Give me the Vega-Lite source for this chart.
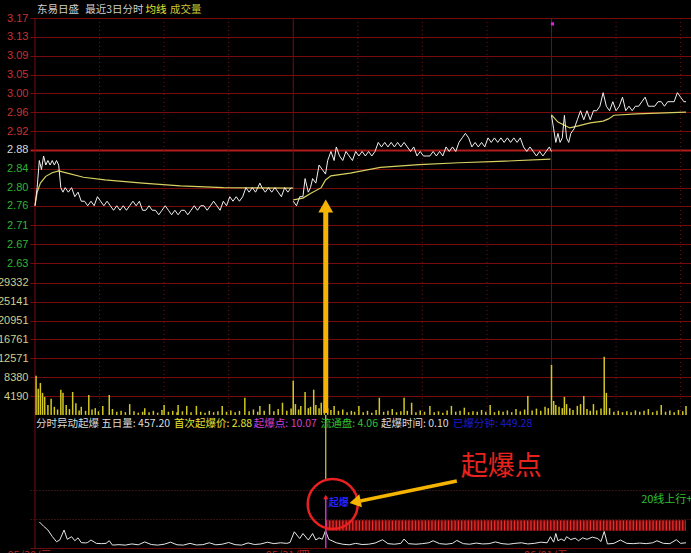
{
  "$schema": "https://vega.github.io/schema/vega-lite/v6.json",
  "width": 661,
  "height": 530,
  "autosize": {"type": "none"},
  "padding": {"left": 30, "top": 18, "right": 0, "bottom": 5},
  "background": "#000000",
  "config": {
    "view": {"stroke": null},
    "font": "Noto Sans CJK SC",
    "axisX": {
      "grid": false, "ticks": false,
      "domainColor": "#6a0c0c",
      "labelColor": "#b42828", "labelFont": "Noto Sans CJK SC", "labelFontSize": 11,
      "labelPadding": 1, "labelFlush": false, "labelOverlap": false, "labelBound": false, "labelOffset": -6
    },
    "axisY": {
      "domain": false, "ticks": false, "title": null,
      "labelFlush": false, "labelOverlap": false, "labelBound": false,
      "labelFont": "Liberation Sans", "labelFontSize": 11, "labelPadding": 2,
      "gridColor": "#780c0c", "gridWidth": 1
    }
  },
  "datasets": {
    "price": [
      {"d":1,"t":0,"p":2.76},{"d":1,"t":2,"p":2.80},{"d":1,"t":4,"p":2.86},{"d":1,"t":6,"p":2.84},{"d":1,"t":8,"p":2.87},
      {"d":1,"t":10,"p":2.85},{"d":1,"t":12,"p":2.86},{"d":1,"t":14,"p":2.85},{"d":1,"t":16,"p":2.86},{"d":1,"t":18,"p":2.85},
      {"d":1,"t":20,"p":2.86},{"d":1,"t":22,"p":2.85},{"d":1,"t":24,"p":2.80},{"d":1,"t":26,"p":2.79},{"d":1,"t":28,"p":2.80},
      {"d":1,"t":31,"p":2.79},{"d":1,"t":34,"p":2.80},{"d":1,"t":37,"p":2.78},{"d":1,"t":40,"p":2.79},{"d":1,"t":43,"p":2.77},
      {"d":1,"t":46,"p":2.77},{"d":1,"t":49,"p":2.76},{"d":1,"t":52,"p":2.77},{"d":1,"t":55,"p":2.76},{"d":1,"t":58,"p":2.78},
      {"d":1,"t":61,"p":2.77},{"d":1,"t":64,"p":2.76},{"d":1,"t":67,"p":2.77},{"d":1,"t":70,"p":2.76},{"d":1,"t":73,"p":2.75},
      {"d":1,"t":76,"p":2.76},{"d":1,"t":79,"p":2.75},{"d":1,"t":82,"p":2.76},{"d":1,"t":85,"p":2.75},{"d":1,"t":88,"p":2.76},
      {"d":1,"t":91,"p":2.77},{"d":1,"t":94,"p":2.76},{"d":1,"t":97,"p":2.77},{"d":1,"t":100,"p":2.75},{"d":1,"t":103,"p":2.75},
      {"d":1,"t":106,"p":2.76},{"d":1,"t":109,"p":2.75},{"d":1,"t":112,"p":2.75},{"d":1,"t":115,"p":2.74},{"d":1,"t":118,"p":2.75},
      {"d":1,"t":121,"p":2.76},{"d":1,"t":124,"p":2.75},{"d":1,"t":127,"p":2.74},{"d":1,"t":130,"p":2.75},{"d":1,"t":133,"p":2.74},
      {"d":1,"t":136,"p":2.75},{"d":1,"t":139,"p":2.75},{"d":1,"t":142,"p":2.74},{"d":1,"t":145,"p":2.75},{"d":1,"t":148,"p":2.76},
      {"d":1,"t":151,"p":2.75},{"d":1,"t":154,"p":2.76},{"d":1,"t":157,"p":2.76},{"d":1,"t":160,"p":2.75},{"d":1,"t":163,"p":2.76},
      {"d":1,"t":166,"p":2.77},{"d":1,"t":169,"p":2.76},{"d":1,"t":172,"p":2.75},{"d":1,"t":175,"p":2.77},{"d":1,"t":178,"p":2.76},
      {"d":1,"t":181,"p":2.78},{"d":1,"t":184,"p":2.77},{"d":1,"t":187,"p":2.78},{"d":1,"t":190,"p":2.77},{"d":1,"t":193,"p":2.78},
      {"d":1,"t":196,"p":2.80},{"d":1,"t":199,"p":2.79},{"d":1,"t":202,"p":2.80},{"d":1,"t":205,"p":2.79},{"d":1,"t":209,"p":2.81},
      {"d":1,"t":211,"p":2.80},{"d":1,"t":214,"p":2.79},{"d":1,"t":217,"p":2.80},{"d":1,"t":220,"p":2.79},{"d":1,"t":223,"p":2.80},
      {"d":1,"t":226,"p":2.79},{"d":1,"t":229,"p":2.78},{"d":1,"t":232,"p":2.80},{"d":1,"t":235,"p":2.79},{"d":1,"t":238,"p":2.80},
      {"d":2,"t":240,"p":2.77},{"d":2,"t":243,"p":2.76},{"d":2,"t":246,"p":2.78},{"d":2,"t":249,"p":2.78},{"d":2,"t":251,"p":2.82},
      {"d":2,"t":254,"p":2.79},{"d":2,"t":256,"p":2.80},{"d":2,"t":258,"p":2.82},{"d":2,"t":261,"p":2.81},{"d":2,"t":264,"p":2.85},
      {"d":2,"t":267,"p":2.84},{"d":2,"t":270,"p":2.83},{"d":2,"t":272,"p":2.86},{"d":2,"t":275,"p":2.88},{"d":2,"t":278,"p":2.86},
      {"d":2,"t":280,"p":2.89},{"d":2,"t":283,"p":2.87},{"d":2,"t":286,"p":2.86},{"d":2,"t":289,"p":2.88},{"d":2,"t":292,"p":2.87},
      {"d":2,"t":295,"p":2.86},{"d":2,"t":298,"p":2.88},{"d":2,"t":301,"p":2.87},{"d":2,"t":304,"p":2.88},{"d":2,"t":307,"p":2.87},
      {"d":2,"t":310,"p":2.88},{"d":2,"t":313,"p":2.87},{"d":2,"t":316,"p":2.88},{"d":2,"t":319,"p":2.90},{"d":2,"t":322,"p":2.89},
      {"d":2,"t":325,"p":2.90},{"d":2,"t":328,"p":2.89},{"d":2,"t":331,"p":2.90},{"d":2,"t":334,"p":2.89},{"d":2,"t":337,"p":2.90},
      {"d":2,"t":340,"p":2.89},{"d":2,"t":343,"p":2.90},{"d":2,"t":346,"p":2.89},{"d":2,"t":349,"p":2.88},{"d":2,"t":352,"p":2.89},
      {"d":2,"t":355,"p":2.87},{"d":2,"t":358,"p":2.88},{"d":2,"t":361,"p":2.87},{"d":2,"t":364,"p":2.87},{"d":2,"t":367,"p":2.87},
      {"d":2,"t":370,"p":2.88},{"d":2,"t":373,"p":2.87},{"d":2,"t":376,"p":2.88},{"d":2,"t":379,"p":2.87},{"d":2,"t":382,"p":2.89},
      {"d":2,"t":385,"p":2.88},{"d":2,"t":388,"p":2.89},{"d":2,"t":391,"p":2.88},{"d":2,"t":394,"p":2.90},{"d":2,"t":397,"p":2.91},
      {"d":2,"t":400,"p":2.92},{"d":2,"t":403,"p":2.91},{"d":2,"t":406,"p":2.89},{"d":2,"t":409,"p":2.90},{"d":2,"t":412,"p":2.89},
      {"d":2,"t":415,"p":2.90},{"d":2,"t":418,"p":2.89},{"d":2,"t":421,"p":2.91},{"d":2,"t":424,"p":2.90},{"d":2,"t":427,"p":2.91},
      {"d":2,"t":430,"p":2.90},{"d":2,"t":433,"p":2.91},{"d":2,"t":436,"p":2.90},{"d":2,"t":439,"p":2.91},{"d":2,"t":442,"p":2.90},
      {"d":2,"t":445,"p":2.91},{"d":2,"t":448,"p":2.90},{"d":2,"t":451,"p":2.91},{"d":2,"t":454,"p":2.89},{"d":2,"t":457,"p":2.88},
      {"d":2,"t":460,"p":2.89},{"d":2,"t":463,"p":2.88},{"d":2,"t":466,"p":2.87},{"d":2,"t":469,"p":2.88},{"d":2,"t":472,"p":2.87},
      {"d":2,"t":475,"p":2.88},{"d":2,"t":478,"p":2.89},{"d":2,"t":480,"p":2.88},
      {"d":3,"t":480,"p":2.96},{"d":3,"t":482,"p":2.93},{"d":3,"t":484,"p":2.90},{"d":3,"t":486,"p":2.92},{"d":3,"t":488,"p":2.90},
      {"d":3,"t":490,"p":2.91},{"d":3,"t":492,"p":2.96},{"d":3,"t":494,"p":2.91},{"d":3,"t":496,"p":2.90},{"d":3,"t":498,"p":2.92},
      {"d":3,"t":501,"p":2.93},{"d":3,"t":504,"p":2.95},{"d":3,"t":507,"p":2.97},{"d":3,"t":510,"p":2.95},{"d":3,"t":513,"p":2.97},
      {"d":3,"t":516,"p":2.95},{"d":3,"t":519,"p":2.97},{"d":3,"t":522,"p":2.97},{"d":3,"t":525,"p":2.98},{"d":3,"t":528,"p":3.01},
      {"d":3,"t":531,"p":2.98},{"d":3,"t":534,"p":2.97},{"d":3,"t":537,"p":2.99},{"d":3,"t":540,"p":2.97},{"d":3,"t":543,"p":2.98},
      {"d":3,"t":546,"p":3.00},{"d":3,"t":549,"p":2.97},{"d":3,"t":552,"p":2.98},{"d":3,"t":555,"p":2.97},{"d":3,"t":558,"p":2.98},
      {"d":3,"t":561,"p":2.98},{"d":3,"t":564,"p":2.99},{"d":3,"t":567,"p":3.00},{"d":3,"t":570,"p":2.98},{"d":3,"t":573,"p":2.98},
      {"d":3,"t":576,"p":2.98},{"d":3,"t":579,"p":2.99},{"d":3,"t":582,"p":2.99},{"d":3,"t":585,"p":2.98},{"d":3,"t":588,"p":2.99},
      {"d":3,"t":591,"p":2.99},{"d":3,"t":594,"p":2.99},{"d":3,"t":597,"p":3.01},{"d":3,"t":600,"p":3.00},{"d":3,"t":603,"p":2.99},
      {"d":3,"t":605,"p":2.99}
    ],
    "avg": [
      {"d":1,"t":0,"p":2.76},{"d":1,"t":2,"p":2.79},{"d":1,"t":5,"p":2.81},{"d":1,"t":10,"p":2.825},{"d":1,"t":16,"p":2.833},
      {"d":1,"t":22,"p":2.837},{"d":1,"t":30,"p":2.832},{"d":1,"t":45,"p":2.823},{"d":1,"t":65,"p":2.817},{"d":1,"t":100,"p":2.81},
      {"d":1,"t":135,"p":2.804},{"d":1,"t":175,"p":2.80},{"d":1,"t":240,"p":2.799},
      {"d":2,"t":240,"p":2.773},{"d":2,"t":249,"p":2.777},{"d":2,"t":256,"p":2.787},{"d":2,"t":266,"p":2.80},{"d":2,"t":270,"p":2.817},
      {"d":2,"t":275,"p":2.826},{"d":2,"t":293,"p":2.832},{"d":2,"t":321,"p":2.845},{"d":2,"t":357,"p":2.851},{"d":2,"t":394,"p":2.855},
      {"d":2,"t":431,"p":2.858},{"d":2,"t":479,"p":2.863},
      {"d":3,"t":480,"p":2.961},{"d":3,"t":486,"p":2.945},{"d":3,"t":492,"p":2.938},{"d":3,"t":497,"p":2.932},{"d":3,"t":504,"p":2.936},
      {"d":3,"t":516,"p":2.943},{"d":3,"t":528,"p":2.947},{"d":3,"t":533,"p":2.952},{"d":3,"t":538,"p":2.96},{"d":3,"t":559,"p":2.963},
      {"d":3,"t":605,"p":2.967}
    ],
    "vol": [
      {"t":1,"v":8700},{"t":3,"v":5800},{"t":5,"v":7100},{"t":7,"v":4900},{"t":9,"v":4000},{"t":12,"v":2200},{"t":15,"v":3600},
      {"t":18,"v":1800},{"t":21,"v":1200},{"t":24,"v":5600},{"t":26,"v":4900},{"t":29,"v":2200},{"t":32,"v":1300},{"t":35,"v":5100},
      {"t":38,"v":2600},{"t":41,"v":1000},{"t":43,"v":1800},{"t":47,"v":900},{"t":50,"v":4400},{"t":53,"v":1200},{"t":56,"v":1500},
      {"t":59,"v":800},{"t":63,"v":2000},{"t":69,"v":4400},{"t":72,"v":1300},{"t":76,"v":700},{"t":80,"v":900},{"t":84,"v":600},
      {"t":88,"v":2400},{"t":92,"v":800},{"t":96,"v":500},{"t":100,"v":700},{"t":102,"v":1500},{"t":106,"v":600},{"t":110,"v":900},
      {"t":114,"v":500},{"t":118,"v":1100},{"t":120,"v":2200},{"t":124,"v":700},{"t":128,"v":900},{"t":132,"v":600},{"t":133,"v":2200},
      {"t":137,"v":800},{"t":141,"v":2000},{"t":145,"v":600},{"t":150,"v":2000},{"t":154,"v":700},{"t":158,"v":500},{"t":162,"v":900},
      {"t":166,"v":600},{"t":170,"v":800},{"t":174,"v":2000},{"t":178,"v":700},{"t":182,"v":1000},{"t":186,"v":600},{"t":190,"v":900},
      {"t":195,"v":3800},{"t":199,"v":800},{"t":203,"v":1200},{"t":207,"v":700},{"t":209,"v":2000},{"t":213,"v":900},{"t":218,"v":2400},
      {"t":222,"v":800},{"t":226,"v":1300},{"t":230,"v":2700},{"t":234,"v":900},{"t":238,"v":1400},
      {"t":240,"v":7600},{"t":242,"v":2400},{"t":245,"v":1200},{"t":247,"v":2000},{"t":251,"v":5100},{"t":254,"v":1500},{"t":256,"v":1800},
      {"t":259,"v":5600},{"t":261,"v":2200},{"t":264,"v":1500},{"t":266,"v":2700},{"t":269,"v":3000},{"t":272,"v":1500},{"t":275,"v":1100},
      {"t":278,"v":2000},{"t":282,"v":900},{"t":286,"v":1200},{"t":290,"v":600},{"t":294,"v":900},{"t":297,"v":700},{"t":301,"v":2000},
      {"t":305,"v":600},{"t":309,"v":900},{"t":313,"v":500},{"t":317,"v":1100},{"t":320,"v":3800},{"t":324,"v":700},{"t":328,"v":900},
      {"t":332,"v":1300},{"t":336,"v":600},{"t":340,"v":800},{"t":343,"v":3800},{"t":346,"v":900},{"t":350,"v":2700},{"t":354,"v":600},
      {"t":358,"v":1000},{"t":362,"v":700},{"t":367,"v":2000},{"t":371,"v":600},{"t":375,"v":800},{"t":379,"v":500},{"t":383,"v":1000},
      {"t":387,"v":2000},{"t":391,"v":700},{"t":395,"v":900},{"t":399,"v":1600},{"t":403,"v":600},{"t":407,"v":800},{"t":411,"v":700},
      {"t":415,"v":1100},{"t":419,"v":700},{"t":423,"v":2200},{"t":427,"v":600},{"t":431,"v":900},{"t":435,"v":700},{"t":439,"v":1000},
      {"t":443,"v":600},{"t":447,"v":1300},{"t":451,"v":800},{"t":455,"v":1200},{"t":458,"v":4200},{"t":462,"v":1000},{"t":466,"v":1400},
      {"t":470,"v":900},{"t":474,"v":1800},{"t":477,"v":1500},
      {"t":480,"v":11100},{"t":482,"v":3100},{"t":484,"v":2200},{"t":487,"v":1800},{"t":490,"v":1500},{"t":492,"v":4000},{"t":494,"v":2400},
      {"t":497,"v":1500},{"t":500,"v":1100},{"t":504,"v":2000},{"t":507,"v":2400},{"t":510,"v":4200},{"t":513,"v":1300},{"t":516,"v":900},
      {"t":519,"v":2400},{"t":522,"v":1000},{"t":526,"v":1400},{"t":529,"v":12900},{"t":531,"v":4900},{"t":534,"v":1500},{"t":538,"v":700},
      {"t":542,"v":900},{"t":546,"v":600},{"t":550,"v":800},{"t":554,"v":600},{"t":558,"v":1000},{"t":562,"v":700},{"t":566,"v":900},
      {"t":570,"v":1300},{"t":574,"v":600},{"t":578,"v":900},{"t":582,"v":2200},{"t":586,"v":700},{"t":590,"v":1000},{"t":594,"v":600},
      {"t":598,"v":1100},{"t":602,"v":800},{"t":605,"v":2000}
    ],
    "ind": [
      {"t":4,"s":18},{"t":8,"s":15},{"t":12,"s":12.4},{"t":16,"s":8},{"t":20,"s":4.3},{"t":23,"s":5.5},{"t":27,"s":12.4},{"t":30,"s":6},
      {"t":34,"s":7.8},{"t":37,"s":5},{"t":40,"s":7},{"t":43,"s":3.7},{"t":47,"s":3.5},{"t":49,"s":3.8},{"t":52,"s":5.5},{"t":57,"s":3.2},
      {"t":62,"s":3},{"t":66,"s":3.2},{"t":69,"s":5},{"t":72,"s":2},{"t":78,"s":2.3},{"t":84,"s":2},{"t":90,"s":2.8},{"t":96,"s":2.2},
      {"t":102,"s":4.2},{"t":108,"s":2.4},{"t":114,"s":2},{"t":120,"s":2.6},{"t":126,"s":4},{"t":132,"s":2.2},{"t":138,"s":2},{"t":144,"s":3.2},
      {"t":150,"s":2.1},{"t":156,"s":2.3},{"t":162,"s":3.6},{"t":168,"s":2.2},{"t":174,"s":2.6},{"t":180,"s":3.8},{"t":186,"s":2.3},{"t":192,"s":2},
      {"t":198,"s":3.5},{"t":204,"s":2.4},{"t":210,"s":2.8},{"t":216,"s":4},{"t":222,"s":3},{"t":228,"s":3.6},{"t":234,"s":3.2},{"t":237,"s":3.8},
      {"t":241,"s":11.2},{"t":246,"s":6.5},{"t":249,"s":10},{"t":254,"s":5.5},{"t":258,"s":10},{"t":261,"s":5.5},{"t":264,"s":7},{"t":267,"s":6},
      {"t":270,"s":12},{"t":273,"s":6},{"t":276,"s":5},{"t":280,"s":3.6},{"t":286,"s":2.6},{"t":292,"s":2.2},{"t":298,"s":3.2},{"t":304,"s":2.4},
      {"t":310,"s":2.6},{"t":316,"s":3.4},{"t":323,"s":5.7},{"t":328,"s":3},{"t":334,"s":2.6},{"t":340,"s":3.2},{"t":343,"s":6.2},{"t":347,"s":3},
      {"t":354,"s":2.6},{"t":360,"s":3},{"t":366,"s":3.6},{"t":370,"s":5},{"t":376,"s":3},{"t":382,"s":2.6},{"t":388,"s":3.2},{"t":392,"s":5.2},
      {"t":398,"s":3},{"t":404,"s":2.6},{"t":410,"s":3.4},{"t":416,"s":2.8},{"t":422,"s":3},{"t":428,"s":4.2},{"t":434,"s":3},{"t":440,"s":2.6},
      {"t":446,"s":3.2},{"t":452,"s":3.6},{"t":458,"s":2.8},{"t":464,"s":3.2},{"t":470,"s":4},{"t":476,"s":3.6},{"t":479,"s":7.8},{"t":482,"s":4},
      {"t":484,"s":10},{"t":486,"s":5},{"t":489,"s":6.2},{"t":492,"s":5},{"t":494,"s":7.8},{"t":498,"s":5.8},{"t":502,"s":6.8},{"t":505,"s":5},
      {"t":509,"s":7},{"t":513,"s":6},{"t":518,"s":7.5},{"t":523,"s":6.5},{"t":526,"s":4.5},{"t":529,"s":11.4},{"t":532,"s":2.8},{"t":538,"s":3.2},
      {"t":544,"s":5.5},{"t":550,"s":3.2},{"t":556,"s":3},{"t":562,"s":3.4},{"t":568,"s":3},{"t":574,"s":3.6},{"t":578,"s":5},{"t":584,"s":3.2},
      {"t":590,"s":3},{"t":596,"s":5.7},{"t":600,"s":3.2},{"t":605,"s":3.6}
    ],
    "info": [
      {"t":0.9,"label":"分时异动起爆 五日量: 457.20","role":"base"},
      {"t":129.2,"label":"首次起爆价: 2.88","role":"first"},
      {"t":203.4,"label":"起爆点: 10.07","role":"point"},
      {"t":265.6,"label":"流通盘: 4.06","role":"float"},
      {"t":321.5,"label":"起爆时间: 0.10","role":"time"},
      {"t":388.4,"label":"已爆分钟: 449.28","role":"mins"}
    ],
    "heading": [
      {"t":1.8,"label":"东易日盛","role":"name"},
      {"t":46.7,"label":"最近3日分时","role":"name"},
      {"t":102.6,"label":"均线","role":"avg"},
      {"t":125.5,"label":"成交量","role":"vol"}
    ],
    "signal": [{"t":270.2,"end":605,"label":"起爆"}]
  },
  "layer": [
    {
      "layer": [
        {
          "data": {"values": [{"t":0}]},
          "mark": {"type": "rule", "color": "#780c0c", "strokeWidth": 1},
          "encoding": {
            "x": {"field": "t", "type": "quantitative", "title": null,
              "scale": {"domain": [0, 605], "nice": false, "zero": false},
              "axis": {"values": [0, 240, 480], "labelExpr": "datum.value == 0 ? '05/30/三' : datum.value == 240 ? '05/31/四' : '06/01/五'"}},
            "y": {"datum": 0, "type": "quantitative", "title": null,
              "scale": {"domain": [0, 365.5], "nice": false, "zero": false},
              "axis": {"orient": "left", "values": [20, 40], "labels": false, "grid": true, "gridDash": [1, 2], "gridColor": "#6a2424"}},
            "y2": {"datum": 365.5}
          }
        },
        {
          "data": {"values": [{"t":240},{"t":480}]},
          "mark": {"type": "rule", "color": "#780c0c", "strokeWidth": 1},
          "encoding": {
            "x": {"field": "t", "type": "quantitative", "title": null},
            "y": {"datum": 91.7, "type": "quantitative", "title": null},
            "y2": {"datum": 365.5}
          }
        },
        {
          "data": {"values": [{"t":60},{"t":120},{"t":180},{"t":300},{"t":360},{"t":420},{"t":540},{"t":600}]},
          "mark": {"type": "rule", "color": "#7a1414", "strokeWidth": 1, "strokeDash": [1, 3]},
          "encoding": {
            "x": {"field": "t", "type": "quantitative", "title": null},
            "y": {"datum": 91.7, "type": "quantitative", "title": null},
            "y2": {"datum": 365.5}
          }
        },
        {
          "data": {"name": "signal"},
          "mark": {"type": "rect", "color": "#5a0a0a"},
          "encoding": {
            "x": {"field": "t", "type": "quantitative", "title": null},
            "x2": {"field": "end"},
            "y": {"datum": 11.7, "type": "quantitative", "title": null},
            "y2": {"datum": 19.3}
          }
        },
        {
          "data": {"name": "signal"},
          "mark": {"type": "rule", "color": "#ee2c2c", "strokeWidth": 10, "strokeDash": [1.3, 2]},
          "encoding": {
            "x": {"field": "t", "type": "quantitative", "title": null},
            "x2": {"field": "end"},
            "y": {"datum": 15.5, "type": "quantitative", "title": null}
          }
        },
        {
          "data": {"name": "ind"},
          "mark": {"type": "line", "color": "#e6e6e6", "strokeWidth": 1},
          "encoding": {
            "x": {"field": "t", "type": "quantitative", "title": null},
            "y": {"field": "s", "type": "quantitative", "title": null}
          }
        },
        {
          "data": {"name": "signal"},
          "mark": {"type": "rule", "color": "#c832c8", "strokeWidth": 1.5},
          "encoding": {
            "x": {"field": "t", "type": "quantitative", "title": null},
            "y": {"datum": 0, "type": "quantitative", "title": null},
            "y2": {"datum": 35.9}
          }
        },
        {
          "data": {"name": "signal"},
          "mark": {"type": "rule", "color": "#dcc83c", "strokeWidth": 1.2},
          "encoding": {
            "x": {"field": "t", "type": "quantitative", "title": null},
            "y": {"datum": 46.9, "type": "quantitative", "title": null},
            "y2": {"datum": 91.7}
          }
        },
        {
          "data": {"name": "signal"},
          "mark": {"type": "point", "shape": "triangle-up", "filled": true, "color": "#f02020", "size": 28, "opacity": 1},
          "encoding": {
            "x": {"field": "t", "type": "quantitative", "title": null},
            "y": {"datum": 35.2, "type": "quantitative", "title": null}
          }
        },
        {
          "data": {"name": "signal"},
          "mark": {"type": "text", "align": "left", "baseline": "middle", "dx": 3, "font": "Noto Sans CJK SC", "fontSize": 10, "fontWeight": "bold", "color": "#2424ff"},
          "encoding": {
            "x": {"field": "t", "type": "quantitative", "title": null},
            "y": {"datum": 31, "type": "quantitative", "title": null},
            "text": {"field": "label"}
          }
        },
        {
          "data": {"name": "signal"},
          "mark": {"type": "point", "shape": "circle", "filled": false, "stroke": "#e82020", "strokeWidth": 2.5, "size": 2500, "xOffset": 7, "opacity": 1},
          "encoding": {
            "x": {"field": "t", "type": "quantitative", "title": null},
            "y": {"datum": 30.3, "type": "quantitative", "title": null}
          }
        },
        {
          "data": {"values": [{"t":392,"s":46.2,"t2":302.3,"s2":32.4}]},
          "mark": {"type": "rule", "color": "#f5b400", "strokeWidth": 3.5},
          "encoding": {
            "x": {"field": "t", "type": "quantitative", "title": null},
            "y": {"field": "s", "type": "quantitative", "title": null},
            "x2": {"field": "t2"},
            "y2": {"field": "s2"}
          }
        },
        {
          "data": {"values": [{"t":297.5,"s":31.8}]},
          "mark": {"type": "point", "shape": "triangle-up", "filled": true, "color": "#f5b400", "size": 170, "angle": 258.5, "opacity": 1},
          "encoding": {
            "x": {"field": "t", "type": "quantitative", "title": null},
            "y": {"field": "s", "type": "quantitative", "title": null}
          }
        },
        {
          "data": {"name": "info"},
          "mark": {"type": "text", "align": "left", "baseline": "middle", "font": "Noto Sans CJK SC", "fontSize": 10.5},
          "encoding": {
            "x": {"field": "t", "type": "quantitative", "title": null},
            "y": {"datum": 85.5, "type": "quantitative", "title": null},
            "text": {"field": "label"},
            "color": {"field": "role", "type": "nominal", "legend": null,
              "scale": {"domain": ["base", "first", "point", "float", "time", "mins", "name", "avg", "vol"],
                        "range": ["#dcdcdc", "#e6e632", "#d040d0", "#30c030", "#dcdcdc", "#1c1cd0", "#d0d0d0", "#e6e632", "#c8c832"]}}
          }
        },
        {
          "data": {"name": "heading"},
          "mark": {"type": "text", "align": "left", "baseline": "middle", "dy": -8, "font": "Noto Sans CJK SC", "fontSize": 10.5},
          "encoding": {
            "x": {"field": "t", "type": "quantitative", "title": null},
            "y": {"datum": 365.5, "type": "quantitative", "title": null},
            "text": {"field": "label"},
            "color": {"field": "role", "type": "nominal", "legend": null}
          }
        },
        {
          "data": {"values": [{"t":433.3,"label":"起爆点"}]},
          "mark": {"type": "text", "align": "center", "baseline": "middle", "font": "Noto Sans CJK SC", "fontSize": 27, "color": "#e8231e"},
          "encoding": {
            "x": {"field": "t", "type": "quantitative", "title": null},
            "y": {"datum": 55.9, "type": "quantitative", "title": null},
            "text": {"field": "label"}
          }
        },
        {
          "data": {"values": [{"t":563.3,"label":"20线上行+"}]},
          "mark": {"type": "text", "align": "left", "baseline": "middle", "font": "Noto Sans CJK SC", "fontSize": 11, "color": "#30c030"},
          "encoding": {
            "x": {"field": "t", "type": "quantitative", "title": null},
            "y": {"datum": 33.1, "type": "quantitative", "title": null},
            "text": {"field": "label"}
          }
        }
      ]
    },
    {
      "layer": [
        {
          "data": {"name": "vol"},
          "mark": {"type": "bar", "color": "#d2c820", "width": 1.5},
          "encoding": {
            "x": {"field": "t", "type": "quantitative", "title": null},
            "y": {"field": "v", "type": "quantitative", "title": null,
              "scale": {"domain": [-29587, 88226], "nice": false, "zero": false},
              "axis": {"orient": "left", "values": [4190, 8380, 12571, 16761, 20951, 25141, 29332], "format": "d", "labelColor": "#cfcf8a", "grid": true}}
          }
        }
      ]
    },
    {
      "layer": [
        {
          "data": {"name": "avg"},
          "mark": {"type": "line", "color": "#d8d060", "strokeWidth": 1.2},
          "encoding": {
            "x": {"field": "t", "type": "quantitative", "title": null},
            "y": {"field": "p", "type": "quantitative", "title": null,
              "scale": {"domain": [2.0035, 3.175], "nice": false, "zero": false},
              "axis": {
                "orient": "left",
                "values": [2.6333, 2.675, 2.7167, 2.76, 2.8, 2.8417, 2.8833, 2.925, 2.9667, 3.0083, 3.05, 3.0917, 3.1333, 3.175],
                "labelExpr": "format(floor(datum.value * 100 + 0.001) / 100, '.2f')",
                "labelColor": {"condition": [{"test": "datum.value > 2.89", "value": "#c83232"}, {"test": "datum.value > 2.88", "value": "#d8d8d8"}], "value": "#32b432"},
                "grid": true,
                "gridColor": {"condition": {"test": "abs(datum.value - 2.8833) < 0.001", "value": "#b01c1c"}, "value": "#780c0c"},
                "gridWidth": {"condition": {"test": "abs(datum.value - 2.8833) < 0.001", "value": 2}, "value": 1}
              }},
            "detail": {"field": "d"}
          }
        },
        {
          "data": {"name": "price"},
          "mark": {"type": "line", "color": "#f0f0f0", "strokeWidth": 1},
          "encoding": {
            "x": {"field": "t", "type": "quantitative", "title": null},
            "y": {"field": "p", "type": "quantitative", "title": null},
            "detail": {"field": "d"}
          }
        },
        {
          "data": {"values": [{"t":270.2,"p":2.3019,"p2":2.7462}]},
          "mark": {"type": "rule", "color": "#f5b400", "strokeWidth": 5},
          "encoding": {
            "x": {"field": "t", "type": "quantitative", "title": null},
            "y": {"field": "p", "type": "quantitative", "title": null},
            "y2": {"field": "p2"}
          }
        },
        {
          "data": {"values": [{"t":270.2,"p":2.7594}]},
          "mark": {"type": "point", "shape": "triangle-up", "filled": true, "color": "#f5b400", "size": 220, "opacity": 1},
          "encoding": {
            "x": {"field": "t", "type": "quantitative", "title": null},
            "y": {"field": "p", "type": "quantitative", "title": null}
          }
        },
        {
          "data": {"values": [{"t":480.9,"p":3.162}]},
          "mark": {"type": "point", "shape": "square", "filled": true, "color": "#e020e0", "size": 10, "opacity": 1},
          "encoding": {
            "x": {"field": "t", "type": "quantitative", "title": null},
            "y": {"field": "p", "type": "quantitative", "title": null}
          }
        }
      ]
    }
  ],
  "resolve": {"scale": {"y": "independent"}}
}
